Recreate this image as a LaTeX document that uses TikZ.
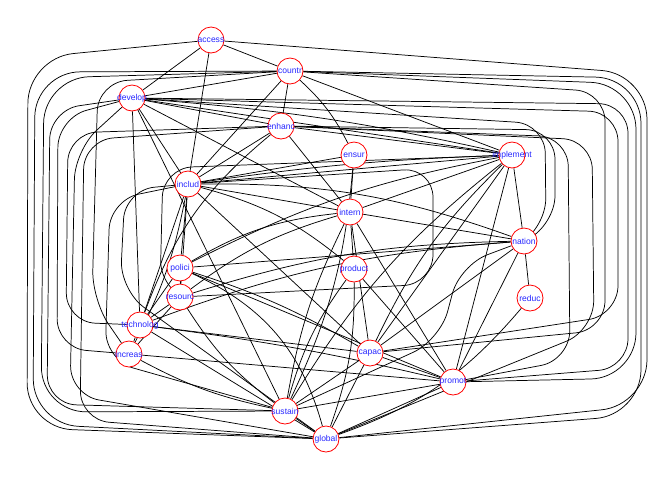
\documentclass[tikz,border=0pt]{standalone}
\usepackage{fontspec}
\newfontfamily\labfont{Liberation Sans}
\newcommand{\vlab}[1]{\makebox[0pt][c]{#1}}
\pgfdeclarelayer{edgelayer}
\pgfsetlayers{edgelayer,main}
\begin{document}
\begin{tikzpicture}[x=0.75pt,y=-0.75pt]
\tikzset{
  vnode/.style={circle,draw=red,fill=white,line width=0.6pt,minimum size=19.5pt,inner sep=0pt,text=blue!85!white,font=\labfont\fontsize{6.4}{7}\selectfont},
  edge/.style={draw=black,line width=0.55pt},
  route/.style={edge,rounded corners=22pt},
  wide/.style={edge,rounded corners=34pt}
}
\useasboundingbox (0,0) rectangle (672,480);
% nodes
\node[vnode] (access) at (211,40) {\vlab{access}};
\node[vnode] (countr) at (290,71) {\vlab{countr}};
\node[vnode] (develop) at (132,98) {\vlab{develop}};
\node[vnode] (enhanc) at (281,126) {\vlab{enhanc}};
\node[vnode] (ensur) at (354,155) {\vlab{ensur}};
\node[vnode] (implement) at (512,155) {\vlab{implement}};
\node[vnode] (includ) at (188,184) {\vlab{includ}};
\node[vnode] (intern) at (350,212) {\vlab{intern}};
\node[vnode] (nation) at (524,241) {\vlab{nation}};
\node[vnode] (polici) at (180,268) {\vlab{polici}};
\node[vnode] (product) at (354,269) {\vlab{product}};
\node[vnode] (reduc) at (530,298) {\vlab{reduc}};
\node[vnode] (resourc) at (180,297) {\vlab{resourc}};
\node[vnode] (technolog) at (140,325) {\vlab{technolog}};
\node[vnode] (increas) at (129,354) {\vlab{increas}};
\node[vnode] (capac) at (370,353) {\vlab{capac}};
\node[vnode] (promot) at (453,382) {\vlab{promot}};
\node[vnode] (sustain) at (285,411) {\vlab{sustain}};
\node[vnode] (global) at (326,439) {\vlab{global}};
\begin{pgfonlayer}{edgelayer}
% straight / slightly bent edges
\draw[edge] (access) -- (countr);
\draw[edge] (access) -- (develop);
\draw[edge] (access) -- (includ);
\draw[edge] (countr) -- (develop);
\draw[edge] (countr) -- (enhanc);
\draw[edge] (countr) -- (includ);
\draw[edge] (countr) to[bend left=10] (ensur);
\draw[edge] (countr) -- (implement);
\draw[edge] (develop) -- (enhanc);
\draw[edge] (develop) -- (includ);
\draw[edge] (develop) -- (intern);
\draw[edge] (develop) -- (technolog);
\draw[edge] (develop) -- (implement);
\draw[edge] (develop) to[bend left=4] (implement);
\draw[edge] (develop) -- (sustain);
\draw[edge] (enhanc) -- (includ);
\draw[edge] (enhanc) -- (intern);
\draw[edge] (enhanc) -- (implement);
\draw[edge] (enhanc) to[bend right=15] (technolog);
\draw[edge] (includ) -- (intern);
\draw[edge] (includ) -- (implement);
\draw[edge] (includ) to[bend left=3] (implement);
\draw[edge] (includ) -- (ensur);
\draw[edge] (includ) -- (polici);
\draw[edge] (includ) -- (resourc);
\draw[edge] (includ) -- (technolog);
\draw[edge] (includ) to[bend left=8] (increas);
\draw[edge] (includ) -- (capac);
\draw[edge] (includ) to[bend left=12] (product);
\draw[edge] (includ) to[bend left=10] (nation);
\draw[edge] (ensur) -- (intern);
\draw[edge] (intern) -- (implement);
\draw[edge] (intern) -- (nation);
\draw[edge] (intern) -- (product);
\draw[edge] (intern) -- (capac);
\draw[edge] (intern) -- (promot);
\draw[edge] (intern) to[bend right=12] (polici);
\draw[edge] (intern) to[bend right=10] (resourc);
\draw[edge] (intern) to[bend right=8] (sustain);
\draw[edge] (implement) -- (nation);
\draw[edge] (implement) -- (capac);
\draw[edge] (implement) to[bend right=10] (capac);
\draw[edge] (implement) -- (promot);
\draw[edge] (implement) to[bend right=10] (sustain);
\draw[edge] (implement) to[bend right=8] (polici);
\draw[edge] (nation) -- (reduc);
\draw[edge] (nation) -- (promot);
\draw[edge] (nation) -- (capac);
\draw[edge] (nation) -- (polici);
\draw[edge] (nation) to[bend right=8] (technolog);
\draw[edge] (reduc) to[bend left=15] (global);
\draw[edge] (capac) -- (promot);
\draw[edge] (capac) -- (sustain);
\draw[edge] (capac) -- (global);
\draw[edge] (promot) -- (sustain);
\draw[edge] (promot) -- (global);
\draw[edge] (sustain) -- (global);
\draw[edge] (polici) -- (resourc);
\draw[edge] (polici) -- (technolog);
\draw[edge] (polici) -- (promot);
\draw[edge] (polici) to[bend left=6] (capac);
\draw[edge] (polici) to[bend left=25] (global);
\draw[edge] (resourc) -- (technolog);
\draw[edge] (resourc) -- (increas);
\draw[edge] (resourc) to[bend right=10] (sustain);
\draw[edge] (resourc) to[bend left=8] (nation);
\draw[edge] (technolog) -- (increas);
\draw[edge] (technolog) -- (capac);
\draw[edge] (technolog) -- (global);
\draw[edge] (technolog) to[bend left=3] (promot);
\draw[edge] (increas) -- (promot);
\draw[edge] (increas) to[bend right=8] (sustain);
\draw[edge] (product) -- (promot);
\draw[edge] (product) to[bend right=10] (sustain);
\draw[edge] (product) to[bend left=10] (global);
\draw[edge] (ensur) to[bend left=10] (sustain);
% left perimeter routes
\draw[wide] (access) -- (28,58) -- (27,428) -- (global);
\draw[wide] (countr) -- (35,72) -- (33,424) -- (global);
\draw[wide] (countr) -- (44,78) -- (41,412) -- (sustain);
\draw[route] (develop) -- (50,110) -- (47,404) -- (sustain);
\draw[route] (develop) -- (58,118) -- (57,348) -- (increas);
\draw[route] (enhanc) -- (68,133) -- (66,322) -- (technolog);
\draw[route] (enhanc) -- (84,140) -- (80,420) -- (global);
\draw[route] (countr) -- (98,82) -- (92,300) -- (increas);
\draw[route] (includ) -- (110,200) -- (105,360) -- (sustain);
\draw[route] (develop) -- (75,150) -- (70,395) -- (global);
\draw[route] (implement) -- (163,168) -- (160,290) -- (resourc);
\draw[route] (includ) -- (125,190) -- (120,290) -- (global);
% right perimeter routes
\draw[wide] (access) -- (647,74) -- (647,405) -- (global);
\draw[wide] (countr) -- (641,78) -- (641,415) -- (global);
\draw[wide] (countr) -- (636,84) -- (636,378) -- (promot);
\draw[route] (develop) -- (628,104) -- (628,368) -- (promot);
\draw[route] (develop) -- (618,112) -- (618,315) -- (capac);
\draw[route] (enhanc) -- (555,130) -- (555,225) -- (nation);
\draw[route] (enhanc) -- (568,137) -- (570,360) -- (promot);
\draw[route] (develop) -- (545,124) -- (546,228) -- (nation);
\draw[route] (countr) -- (605,92) -- (605,330) -- (capac);
\draw[route] (includ) -- (433,168) -- (433,284) -- (resourc);
\draw[route] (enhanc) -- (592,140) -- (594,330) -- (global);
\draw[route] (nation) -- (460,265) -- (440,340) -- (sustain);
\end{pgfonlayer}
\end{tikzpicture}
\end{document}
